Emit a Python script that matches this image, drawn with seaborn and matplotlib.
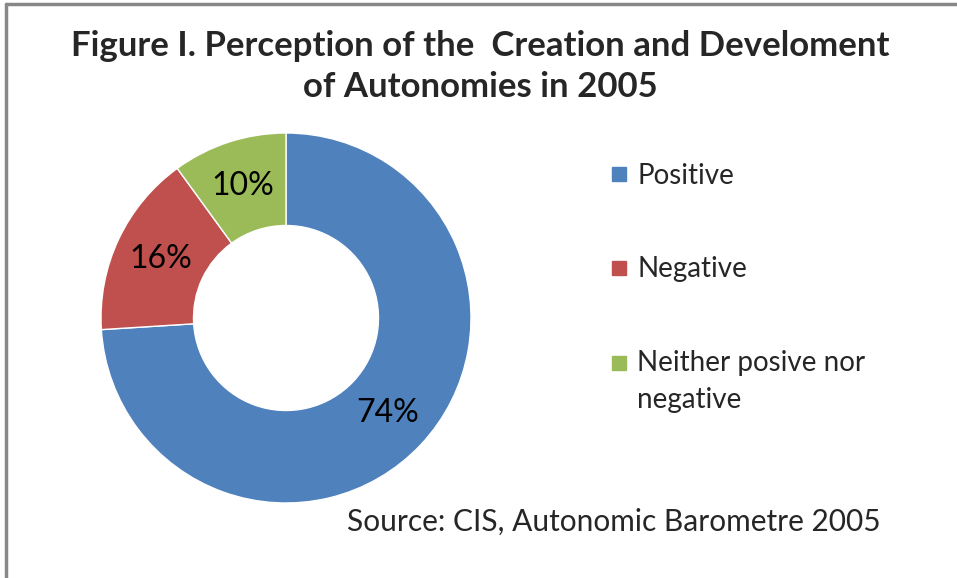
import numpy as np
import matplotlib
matplotlib.use("Agg")
import matplotlib.pyplot as plt
from matplotlib.lines import Line2D
import seaborn as sns

categories = ["Positive", "Negative", "Neither posive nor\nnegative"]
shares = [74, 16, 10]
colors = ["#4F81BD", "#C0504D", "#9BBB59"]

title = "Figure I. Perception of the  Creation and Develoment\nof Autonomies in 2005"
source = "Source: CIS, Autonomic Barometre 2005"

sns.set_theme(style="white")
plt.rcParams["font.family"] = ["Lato", "DejaVu Sans"]

W, H = 957, 578
fig = plt.figure(figsize=(W / 100, H / 100), dpi=100)
fig.patch.set_facecolor("white")

# donut axes: centre (286, 318) px, radius 185 px
cx, cy, r = 286, 318, 185
ax = fig.add_axes([(cx - r) / W, (H - cy - r) / H, 2 * r / W, 2 * r / H])
wedges, texts, autotexts = ax.pie(
    shares, colors=colors, startangle=90, counterclock=False,
    autopct=lambda p: f"{p:.0f}%", pctdistance=0.75,
    wedgeprops=dict(width=0.5, edgecolor="white", linewidth=1),
    textprops=dict(fontsize=23, color="black"))
ax.set_xlim(-1, 1)
ax.set_ylim(-1, 1)

fig.text(0.502, 1 - 66.5 / H, title, ha="center", va="center",
         fontsize=25, fontweight="bold", linespacing=1.38)
fig.text(614 / W, 1 - 522 / H, source, ha="center", va="center", fontsize=21.5)

handles = [Line2D([0], [0], marker="s", linestyle="none", markersize=10,
                  markerfacecolor=c, markeredgecolor=c) for c in colors]
leg = fig.legend(handles, categories, loc="upper left",
                 bbox_to_anchor=(583 / W, 1 - 138 / H), frameon=False,
                 fontsize=20, labelspacing=2.43, handletextpad=0.25,
                 handlelength=0.8)
for t in leg.get_texts():
    t.set_linespacing(1.52)
# put the last marker level with the first line of its two-line label
last = leg.get_lines()[-1]
last.set_ydata(np.asarray(last.get_ydata()) + 14)

# frame lines (top and left only)
fig.add_artist(Line2D([6 / W, 1], [1 - 4 / H, 1 - 4 / H], color="#888888", lw=2.5))
fig.add_artist(Line2D([6 / W, 6 / W], [0, 1 - 4 / H], color="#888888", lw=2.5))

fig.savefig("out.png", dpi=100, facecolor="white")
